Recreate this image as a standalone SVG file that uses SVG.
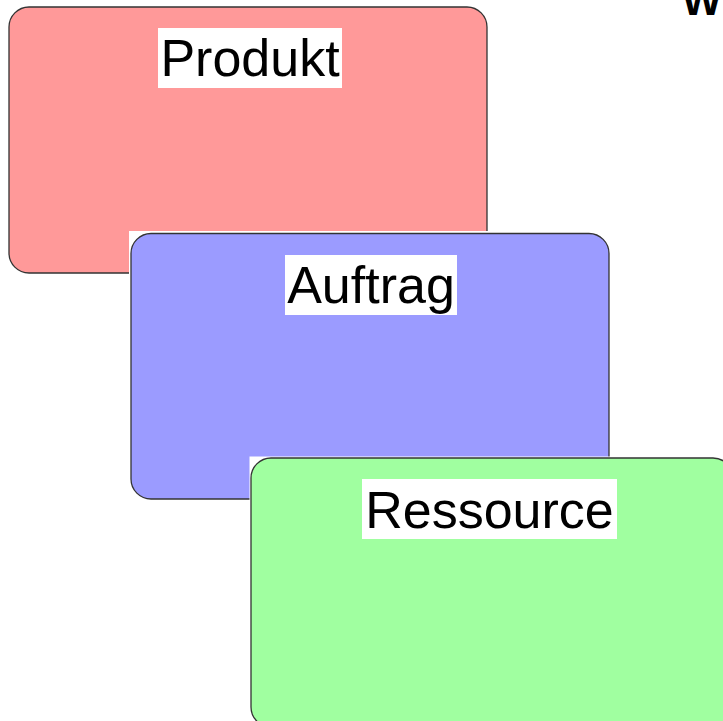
<svg xmlns="http://www.w3.org/2000/svg" width="723" height="721" viewBox="0 0 723 721">
  <style>
    .box { stroke: #333333; stroke-width: 1.3; }
    .halo { fill: #ffffff; }
    .tag { fill: #ffffff; }
    .label { font-family: "Liberation Sans", Arial, sans-serif; font-size: 52px; fill: #000000; text-anchor: middle; }
    .title { font-family: "Liberation Sans", Arial, sans-serif; font-size: 42px; font-weight: bold; fill: #000000; }
  </style>
  <rect width="723" height="721" fill="#ffffff"/>

  <!-- heading, clipped at the top edge -->
  <text class="title" x="682" y="15">W</text>

  <g id="produkt">
    <rect class="box" x="9" y="7" width="478" height="266" rx="20" ry="20" fill="#ff9999"/>
    <rect class="tag" x="158" y="28" width="184" height="60"/>
    <text class="label" x="250" y="76">Produkt</text>
  </g>

  <g id="auftrag">
    <rect class="halo" x="129" y="231" width="482" height="270"/>
    <rect class="box" x="131" y="233.5" width="478" height="265.5" rx="20" ry="20" fill="#9b9bff"/>
    <rect class="tag" x="285" y="255" width="172" height="60"/>
    <text class="label" x="371" y="303">Auftrag</text>
  </g>

  <g id="ressource">
    <rect class="halo" x="249.5" y="456.5" width="490" height="280"/>
    <rect class="box" x="251" y="458" width="482" height="269" rx="20" ry="20" fill="#a0ffa0"/>
    <rect class="tag" x="362" y="479" width="255" height="60"/>
    <text class="label" x="489.5" y="528">Ressource</text>
  </g>
</svg>
